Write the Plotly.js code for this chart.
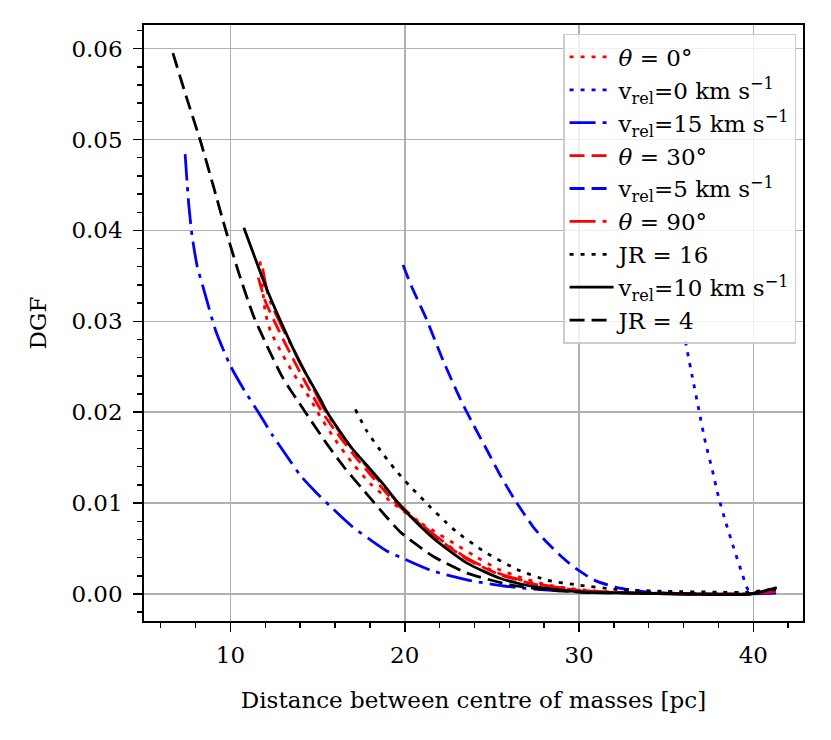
<!DOCTYPE html>
<html>
<head>
<meta charset="utf-8">
<script src="https://cdn.plot.ly/plotly-3.0.1.min.js"></script>
<style>html,body{margin:0;padding:0;background:#fff;}#chart{width:831px;height:740px;}</style>
</head>
<body>
<div id="chart"></div>
<script>
// ---- data ----
const theta0_x = [11.7, 11.85, 12.0, 12.3, 13.0, 13.6, 14.6, 15.0, 16.0, 17.0, 18.0, 19.0, 20.5, 21.7, 22.8, 24.0, 25.3, 26.7, 28.2, 30.0, 32.0, 35.0, 38.0, 39.7, 41.3];
const theta0_y = [0.0366, 0.0335, 0.0310, 0.0289, 0.0263, 0.0243, 0.0214, 0.0200, 0.0170, 0.0144, 0.0122, 0.0105, 0.0083, 0.0069, 0.0056, 0.0042, 0.0028, 0.0018, 0.0010, 0.0005, 0.0002, 0.0001, 0.0000, 0.0000, 0.0004];

const vrel0_x = [36.1, 36.49, 36.87, 37.26, 37.64, 38.0, 38.4, 38.87, 39.35, 39.73, 40.4, 41.3];
const vrel0_y = [0.0278, 0.0240, 0.0203, 0.0166, 0.0137, 0.0107, 0.0080, 0.0051, 0.0023, 0.0004, 0.0001, 0.0001];

const vrel15_x = [7.4, 7.6, 7.8, 8.1, 8.5, 9.15, 10.0, 10.8, 11.6, 12.4, 13.26, 14.03, 14.9, 15.75, 17.0, 18.0, 19.0, 19.8, 21.5, 23.7, 26.0, 28.4, 31.0, 34.0, 37.0, 39.7, 41.3];
const vrel15_y = [0.0484, 0.0430, 0.0394, 0.0360, 0.0333, 0.0290, 0.0251, 0.0224, 0.0200, 0.0175, 0.0151, 0.0130, 0.0112, 0.0096, 0.0074, 0.0060, 0.0047, 0.0040, 0.0026, 0.0015, 0.0008, 0.0004, 0.0002, 0.0001, 0.0000, 0.0000, 0.0001];

const theta30_x = [11.6, 12.0, 12.8, 13.5, 14.3, 15.17, 16.0, 17.0, 18.0, 19.2, 20.0, 21.7, 23.6, 25.5, 27.4, 30.0, 33.0, 36.0, 39.7, 41.3];
const theta30_y = [0.0348, 0.0322, 0.0289, 0.0262, 0.0233, 0.0203, 0.0180, 0.0155, 0.0132, 0.0106, 0.0091, 0.0064, 0.0038, 0.0021, 0.0011, 0.0004, 0.0001, 0.0000, 0.0000, 0.0003];

const vrel5_x = [19.9, 20.4, 20.9, 21.3, 22.2, 23.2, 24.0, 24.7, 25.5, 26.3, 27.4, 28.0, 29.0, 29.9, 30.9, 32.2, 34.0, 37.0, 39.7, 41.3];
const vrel5_y = [0.0362, 0.0338, 0.0317, 0.0300, 0.0257, 0.0214, 0.0184, 0.0159, 0.0130, 0.0104, 0.0073, 0.0060, 0.0041, 0.0027, 0.0015, 0.0007, 0.0002, 0.0000, 0.0000, 0.0003];

const theta90_x = [11.85, 12.2, 13.0, 13.7, 14.5, 15.3, 16.2, 17.1, 18.1, 19.3, 20.0, 21.7, 23.6, 25.5, 27.4, 30.0, 33.0, 36.0, 39.7, 41.3];
const theta90_y = [0.0358, 0.0326, 0.0292, 0.0266, 0.0236, 0.0206, 0.0180, 0.0157, 0.0134, 0.0107, 0.0093, 0.0065, 0.0039, 0.0022, 0.0012, 0.0004, 0.0001, 0.0000, 0.0000, 0.0003];

const jr16_x = [17.17, 17.8, 18.6, 19.4, 20.23, 21.1, 21.5, 22.3, 23.0, 24.53, 26.45, 28.2, 29.9, 32.2, 35.0, 38.0, 39.7, 41.3];
const jr16_y = [0.0203, 0.0180, 0.0158, 0.0138, 0.0120, 0.0103, 0.0095, 0.0080, 0.0068, 0.0047, 0.0027, 0.0015, 0.0010, 0.0005, 0.0003, 0.0002, 0.0002, 0.0006];

const vrel10_x = [10.77, 11.5, 12.2, 13.0, 14.0, 15.17, 15.55, 16.9, 17.9, 18.8, 19.5, 20.1, 21.67, 23.58, 25.5, 27.4, 30.3, 33.0, 36.0, 39.8, 41.35];
const vrel10_y = [0.0403, 0.0365, 0.0330, 0.0295, 0.0254, 0.0214, 0.0200, 0.0162, 0.0140, 0.0120, 0.0103, 0.0090, 0.0061, 0.0034, 0.0017, 0.0008, 0.0002, 0.0001, 0.0000, 0.0000, 0.0007];

const jr4_x = [6.7, 7.5, 8.3, 9.0, 9.72, 10.5, 11.3, 12.0, 13.0, 14.3, 15.5, 16.5, 17.47, 18.0, 18.8, 19.76, 21.67, 23.58, 26.07, 28.0, 30.0, 33.0, 36.0, 39.7, 41.3];
const jr4_y = [0.0595, 0.0545, 0.0497, 0.0450, 0.0401, 0.0352, 0.0307, 0.0277, 0.0238, 0.0200, 0.0166, 0.0140, 0.0118, 0.0106, 0.0088, 0.0068, 0.0041, 0.0023, 0.0010, 0.0005, 0.0002, 0.0001, 0.0000, 0.0000, 0.0005];

const seriesNames = [
  "<i>θ</i> = 0°",
  "v<sub>rel</sub>=0 km s<sup>−1</sup>",
  "v<sub>rel</sub>=15 km s<sup>−1</sup>",
  "<i>θ</i> = 30°",
  "v<sub>rel</sub>=5 km s<sup>−1</sup>",
  "<i>θ</i> = 90°",
  "JR = 16",
  "v<sub>rel</sub>=10 km s<sup>−1</sup>",
  "JR = 4"
];
const xTitle = "Distance between centre of masses [pc]";
const yTitle = "DGF";

// ---- styles ----
const LW = 2.8;
const DOT = "4px,7px";
const DASH = "15px,7px";
const DASHDOT = "26px,7px,4px,7px";
const RED = "#ff0000", BLUE = "#0000ff", BLACK = "#000000";

const defs = [
  [theta0_x, theta0_y, RED, DOT],
  [vrel0_x, vrel0_y, BLUE, DOT],
  [vrel15_x, vrel15_y, BLUE, DASHDOT],
  [theta30_x, theta30_y, RED, DASH],
  [vrel5_x, vrel5_y, BLUE, DASH],
  [theta90_x, theta90_y, RED, DASHDOT],
  [jr16_x, jr16_y, BLACK, DOT],
  [vrel10_x, vrel10_y, BLACK, "solid"],
  [jr4_x, jr4_y, BLACK, DASH]
];

const traces = defs.map((d, i) => ({
  type: "scatter",
  mode: "lines",
  x: d[0],
  y: d[1],
  name: seriesNames[i],
  legendgroup: "g" + i,
  line: {color: d[2], dash: d[3], width: LW, shape: "spline", smoothing: 0.6}
}));

const FONT = '"DejaVu Serif", "Liberation Serif", serif';

const layout = {
  width: 831,
  height: 740,
  margin: {l: 144, r: 28, t: 25, b: 119},
  paper_bgcolor: "#ffffff",
  plot_bgcolor: "#ffffff",
  font: {family: FONT, size: 23, color: "#000000"},
  showlegend: true,
  legend: {
    x: 0.9895, xanchor: "right",
    y: 0.985, yanchor: "top",
    bgcolor: "rgba(255,255,255,0.8)",
    bordercolor: "#cccccc",
    borderwidth: 1.5,
    font: {family: FONT, size: 23, color: "#000000"},
    itemwidth: 44,
    traceorder: "grouped",
    tracegroupgap: 0
  },
  xaxis: {
    range: [5.04, 42.85],
    tick0: 0, dtick: 10,
    ticks: "outside", ticklen: 9, tickwidth: 1.6, tickcolor: "#000000",
    ticklabelstandoff: 4,
    showline: true, linecolor: "#000000", linewidth: 1.8, mirror: true,
    showgrid: true, gridcolor: "#b0b0b0", gridwidth: 1.6,
    zeroline: false,
    automargin: false,
    minor: {tick0: 0, dtick: 2, ticks: "outside", ticklen: 5, tickwidth: 1.4, tickcolor: "#000000", showgrid: false},
    tickfont: {family: FONT, size: 23, color: "#000000"},
    title: {text: xTitle, font: {family: FONT, size: 23, color: "#000000"}, standoff: 24}
  },
  yaxis: {
    range: [-0.00297, 0.0626],
    tick0: 0, dtick: 0.01, tickformat: ".2f",
    ticks: "outside", ticklen: 9, tickwidth: 1.6, tickcolor: "#000000",
    ticklabelstandoff: 6,
    showline: true, linecolor: "#000000", linewidth: 1.8, mirror: true,
    showgrid: true, gridcolor: "#b0b0b0", gridwidth: 1.6,
    zeroline: false,
    automargin: false,
    minor: {tick0: 0, dtick: 0.002, ticks: "outside", ticklen: 5, tickwidth: 1.4, tickcolor: "#000000", showgrid: false},
    tickfont: {family: FONT, size: 23, color: "#000000"},
    title: {text: yTitle, font: {family: FONT, size: 23, color: "#000000"}, standoff: 18}
  }
};

Plotly.newPlot("chart", traces, layout, {displayModeBar: false, staticPlot: true});
</script>
</body>
</html>
